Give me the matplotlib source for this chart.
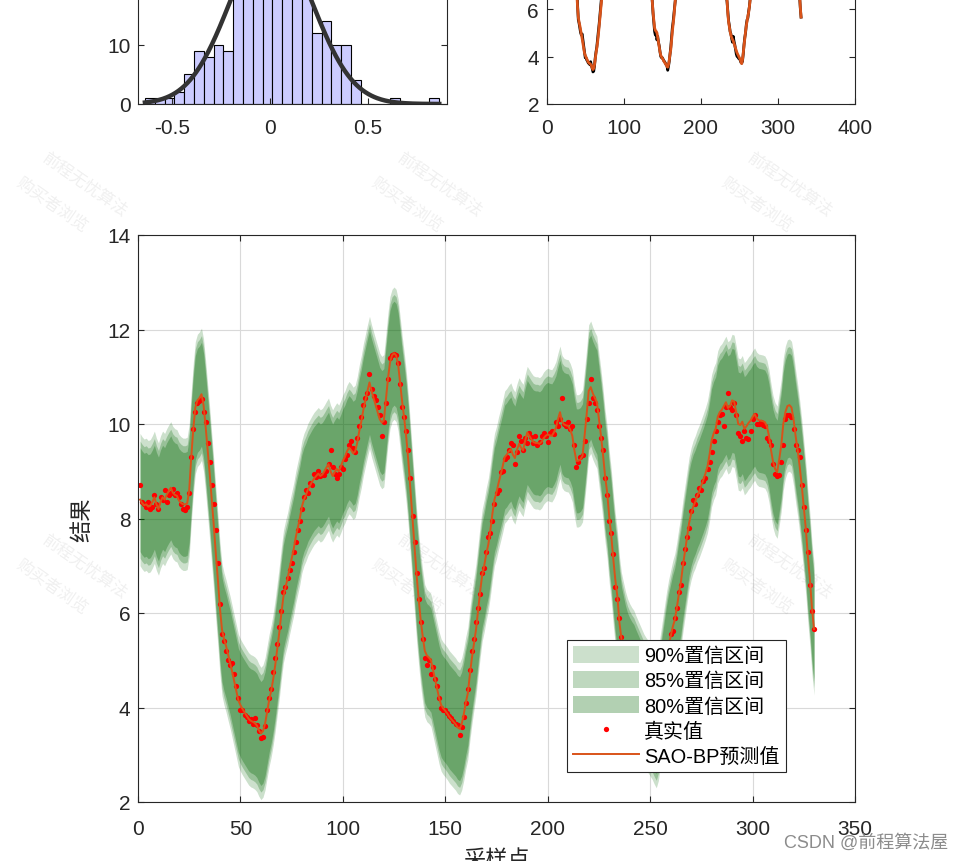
import numpy as np
import matplotlib
matplotlib.use("Agg")
import matplotlib.pyplot as plt

plt.rcParams['font.family'] = ['Liberation Sans', 'Noto Sans CJK SC', 'DejaVu Sans']
plt.rcParams['axes.unicode_minus'] = False

# ---------------- data ----------------
pred = [
 8.40, 8.33, 8.28, 8.30, 8.25, 8.27, 8.35, 8.45, 8.30, 8.20,
 8.35, 8.45, 8.40, 8.50, 8.58, 8.65, 8.55, 8.50, 8.48, 8.38,
 8.33, 8.30, 8.30, 8.32, 8.60, 9.30, 9.90, 10.35, 10.50, 10.55,
 10.63, 10.40, 9.95, 9.45, 8.95, 8.40, 7.85, 7.25, 6.70, 6.10,
 5.65, 5.45, 5.30, 5.12, 4.95, 4.75, 4.55, 4.35, 4.15, 4.05,
 3.97, 3.90, 3.83, 3.76, 3.72, 3.70, 3.67, 3.62, 3.52, 3.45,
 3.50, 3.65, 3.90, 4.15, 4.35, 4.60, 4.90, 5.25, 5.60, 6.00,
 6.35, 6.55, 6.72, 6.95, 7.15, 7.35, 7.60, 7.80, 8.00, 8.25,
 8.40, 8.50, 8.62, 8.70, 8.78, 8.85, 8.90, 8.95, 8.90, 8.93,
 9.00, 9.08, 9.15, 9.00, 8.90, 8.98, 9.05, 9.00, 9.10, 9.22,
 9.30, 9.42, 9.50, 9.45, 9.38, 9.42, 9.60, 9.85, 10.05, 10.30,
 10.50, 10.70, 10.88, 10.70, 10.55, 10.40, 10.25, 10.10, 10.03, 10.07,
 10.50, 10.95, 11.30, 11.45, 11.50, 11.45, 11.25, 10.85, 10.45, 10.10,
 9.70, 9.20, 8.60, 8.00, 7.40, 6.80, 6.30, 5.85, 5.50, 5.20,
 5.10, 5.06, 5.00, 4.80, 4.60, 4.40, 4.20, 4.05, 3.98, 3.93,
 3.87, 3.80, 3.75, 3.70, 3.65, 3.58, 3.55, 3.65, 3.85, 4.10,
 4.30, 4.70, 5.05, 5.35, 5.65, 6.05, 6.45, 6.80, 7.00, 7.25,
 7.45, 7.75, 8.10, 8.40, 8.55, 8.75, 8.92, 9.10, 9.30, 9.35,
 9.42, 9.47, 9.35, 9.28, 9.45, 9.58, 9.50, 9.44, 9.65, 9.82,
 9.75, 9.68, 9.62, 9.60, 9.60, 9.58, 9.62, 9.70, 9.75, 9.78,
 9.76, 9.75, 9.82, 9.92, 10.10, 10.25, 10.05, 9.99, 9.97, 9.96,
 9.88, 9.75, 9.45, 9.22, 9.22, 9.25, 9.33, 9.75, 10.20, 10.70,
 10.78, 10.65, 10.55, 10.46, 10.10, 9.75, 9.35, 8.90, 8.56, 8.05,
 7.65, 7.15, 6.70, 6.35, 5.80, 5.45, 5.25, 5.05, 4.90, 4.80,
 4.72, 4.66, 4.55, 4.45, 4.35, 4.25, 4.15, 4.08, 4.02, 3.95,
 3.88, 3.78, 3.70, 3.85, 4.15, 4.45, 4.75, 5.05, 5.30, 5.50,
 5.70, 5.85, 6.10, 6.40, 6.65, 7.00, 7.30, 7.60, 7.90, 8.10,
 8.25, 8.35, 8.48, 8.58, 8.70, 8.82, 8.95, 9.10, 9.35, 9.65,
 9.80, 9.90, 10.15, 10.25, 10.30, 10.38, 10.46, 10.34, 10.38, 10.50,
 10.48, 10.25, 10.00, 9.98, 10.05, 9.90, 9.95, 10.02, 10.07, 10.15,
 10.21, 10.12, 10.08, 10.07, 10.06, 10.04, 9.95, 9.75, 9.45, 9.20,
 9.05, 8.98, 9.25, 9.55, 10.00, 10.25, 10.38, 10.40, 10.35, 10.10,
 9.75, 9.45, 9.10, 8.70, 8.25, 7.78, 7.20, 6.70, 6.10, 5.66,
]

true_vals = [
 8.70, 8.35, 8.30, 8.25, 8.35, 8.20, 8.25, 8.50, 8.30, 8.20,
 8.45, 8.40, 8.60, 8.35, 8.50, 8.55, 8.62, 8.50, 8.55, 8.45,
 8.30, 8.20, 8.18, 8.25, 8.55, 9.30, 9.90, 10.25, 10.45, 10.48,
 10.52, 10.25, 10.05, 9.60, 9.20, 8.70, 8.30, 7.75, 7.05, 6.20,
 5.55, 5.40, 5.20, 5.00, 4.90, 4.95, 4.70, 4.45, 4.20, 3.95,
 3.95, 3.85, 3.80, 3.72, 3.75, 3.65, 3.78, 3.62, 3.50, 3.35,
 3.38, 3.60, 3.95, 4.20, 4.40, 4.75, 5.05, 5.35, 5.70, 6.05,
 6.45, 6.55, 6.75, 6.90, 7.05, 7.30, 7.50, 7.75, 7.95, 8.20,
 8.45, 8.60, 8.55, 8.75, 8.70, 8.95, 8.88, 9.00, 8.90, 8.92,
 8.92, 9.00, 9.15, 9.45, 9.10, 8.95, 8.85, 8.95, 9.10, 9.05,
 9.25, 9.35, 9.55, 9.65, 9.50, 9.40, 9.70, 9.95, 10.15, 10.40,
 10.55, 10.65, 11.05, 10.75, 10.60, 10.50, 10.35, 10.20, 9.75, 10.05,
 10.45, 10.95, 11.40, 11.45, 11.48, 11.45, 11.30, 10.85, 10.35, 10.15,
 9.85, 9.45, 8.85, 8.05, 7.50, 6.85, 6.30, 5.80, 5.45, 5.05,
 4.90, 5.00, 4.70, 4.85, 4.60, 4.45, 4.20, 4.00, 3.95, 3.95,
 3.88, 3.82, 3.78, 3.72, 3.65, 3.62, 3.42, 3.58, 3.80, 4.10,
 4.40, 4.80, 5.20, 5.45, 5.80, 6.10, 6.40, 6.85, 6.95, 7.30,
 7.60, 7.70, 7.95, 8.30, 8.55, 8.60, 8.98, 9.00, 9.25, 9.30,
 9.45, 9.60, 9.55, 9.15, 9.40, 9.75, 9.65, 9.45, 9.70, 9.60,
 9.80, 9.72, 9.60, 9.75, 9.55, 9.62, 9.75, 9.80, 9.75, 9.62,
 9.80, 9.85, 9.78, 10.05, 9.95, 10.10, 10.55, 10.00, 9.95, 10.05,
 9.90, 9.95, 9.55, 9.08, 9.20, 9.30, 9.35, 9.65, 10.10, 10.45,
 10.95, 10.55, 10.45, 10.30, 9.95, 9.70, 9.45, 8.85, 8.50, 7.95,
 7.70, 7.25, 6.55, 6.30, 5.90, 5.50, 5.30, 5.05, 4.95, 4.75,
 4.60, 4.85, 4.65, 4.50, 4.30, 4.10, 4.00, 3.98, 3.92, 3.90,
 3.85, 3.75, 3.72, 3.80, 4.10, 4.50, 4.80, 5.00, 5.35, 5.55,
 5.62, 5.90, 6.10, 6.45, 6.60, 7.05, 7.35, 7.60, 7.80, 8.15,
 8.40, 8.30, 8.50, 8.65, 8.60, 8.80, 8.85, 9.05, 9.20, 9.40,
 9.65, 9.85, 10.05, 10.20, 10.22, 9.95, 10.35, 10.65, 10.35, 10.30,
 10.45, 10.20, 9.80, 9.75, 9.65, 9.85, 9.70, 9.68, 9.85, 10.10,
 10.20, 10.00, 10.00, 10.05, 9.98, 9.95, 9.70, 9.65, 9.55, 9.15,
 8.95, 8.90, 8.92, 9.20, 9.55, 10.10, 10.18, 10.20, 10.15, 9.90,
 9.55, 9.45, 9.30, 8.70, 8.25, 7.75, 7.30, 6.60, 6.05, 5.66,
]

# confidence levels and their half widths around the prediction
ci_labels = ['90%置信区间', '85%置信区间', '80%置信区间']
ci_halfwidth = [1.40, 1.24, 1.10]
ci_alpha = [0.20, 0.25, 0.30]

# error histogram (top-left)
hist_first_edge = -0.641
hist_bin_width = 0.0503
hist_counts = [1, 1, 1, 2, 5, 9, 8, 10, 9, 21, 26, 24, 31, 27, 29, 22, 19,
               12, 14, 10, 10, 4, 0, 0, 0, 1, 0, 0, 0, 1]
fit_mu = 0.005
fit_sigma = 0.21

# ---------------- figure ----------------
W, H = 967, 862
fig = plt.figure(figsize=(W / 100, H / 100), dpi=100)

def px_axes(l, r, t, b):
    return fig.add_axes([l / W, 1 - b / H, (r - l) / W, (b - t) / H])

dark = '#262626'
fs = 15

def style(ax, xpad, ypad):
    for s in ax.spines.values():
        s.set_color(dark)
        s.set_linewidth(0.8)
    ax.tick_params(direction='in', top=True, right=True, length=4.5,
                   width=0.8, colors=dark, labelsize=fs, labelcolor=dark)
    ax.tick_params(axis='x', pad=xpad)
    ax.tick_params(axis='y', pad=ypad)

# top-left: histogram with normal fit
ax1 = px_axes(138.3, 446.7, 105 - 237.5, 105)
edges = hist_first_edge + hist_bin_width * np.arange(len(hist_counts) + 1)
ax1.bar(edges[:-1], hist_counts, width=hist_bin_width, align='edge',
        color=(0.8, 0.8, 1.0), edgecolor='black', linewidth=0.8)
xf = np.linspace(edges[0], edges[-1], 300)
scale = np.sum(hist_counts) * hist_bin_width
yf = scale / (fit_sigma * np.sqrt(2 * np.pi)) * np.exp(-0.5 * ((xf - fit_mu) / fit_sigma) ** 2)
ax1.plot(xf, yf, color='#333333', linewidth=3.2)
ax1.set_xlim(-0.675, 0.906)
ax1.set_ylim(0, 40)
ax1.set_xticks([-0.5, 0, 0.5])
ax1.set_xticklabels(['-0.5', '0', '0.5'])
ax1.set_yticks([0, 10])
style(ax1, 10, 5.5)

# top-right: true vs prediction lines
x = np.arange(1, len(pred) + 1)
ax2 = px_axes(546.7, 855, 105 - 237.5, 105)
ax2.plot(x, true_vals, color='black', linewidth=2.0)
ax2.plot(x, pred, color='#D95319', linewidth=2.0)
ax2.set_xlim(0, 400)
ax2.set_ylim(2, 12)
ax2.set_xticks([0, 100, 200, 300, 400])
ax2.set_yticks([2, 4, 6])
style(ax2, 10, 5.5)

# main plot
ax = px_axes(138, 855, 236, 803)
pred_a = np.array(pred)
for lab, hw, a in zip(ci_labels, ci_halfwidth, ci_alpha):
    ax.fill_between(x, pred_a - hw, pred_a + hw, color=(0.0, 0.4, 0.0),
                    alpha=a, linewidth=0, label=lab)
ax.plot(x, true_vals, 'o', color='red', markersize=3.8, markeredgewidth=0,
        label='真实值')
ax.plot(x, pred, color='#D95319', linewidth=1.4, label='SAO-BP预测值')
ax.set_xlim(0, 350)
ax.set_ylim(2, 14)
ax.set_xticks(np.arange(0, 351, 50))
ax.set_yticks(np.arange(2, 15, 2))
ax.grid(True, color='#d9d9d9', linewidth=0.8)
ax.set_axisbelow(True)
style(ax, 12, 5.5)
ax.set_xlabel('采样点', fontsize=fs + 1, color=dark, labelpad=8)
ax.set_ylabel('结果', fontsize=fs + 1, color=dark, labelpad=10)

leg = ax.legend(loc='upper left', bbox_to_anchor=(0.5988, 0.2857),
                borderaxespad=0, fontsize=14.4, frameon=True, fancybox=False,
                handlelength=3.3, handleheight=0.9, handletextpad=0.25,
                labelspacing=0.3, borderpad=0.3, markerscale=1.0)
leg.get_frame().set_edgecolor(dark)
leg.get_frame().set_linewidth(0.8)
leg.get_frame().set_alpha(1)

# watermarks
for cx in (85, 440, 790):
    for cy in (185, 567):
        fig.text(cx / W, 1 - cy / H, '前程无忧算法', rotation=-35, fontsize=12,
                 color='grey', alpha=0.12, ha='center', va='center')
        fig.text((cx - 33) / W, 1 - (cy + 20) / H, '购买者浏览', rotation=-35,
                 fontsize=12, color='grey', alpha=0.12, ha='center', va='center')
fig.text(866 / W, 1 - 843 / H, 'CSDN @前程算法屋', fontsize=13, color='#8c8c8c',
         ha='center', va='center')

fig.savefig('out.png', dpi=100)
